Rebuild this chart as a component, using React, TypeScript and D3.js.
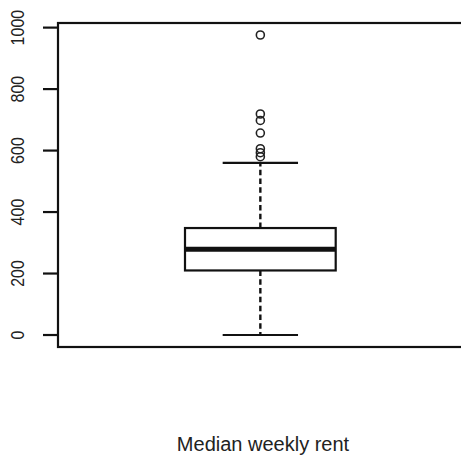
import React from "react";
import * as d3 from "d3";

const categories = ["Median weekly rent"];
const whiskerLow = [0];
const q1 = [210];
const median = [279];
const q3 = [348];
const whiskerHigh = [560];
const outliers = [976, 719, 698, 657, 606, 593, 580];
const yTicks = [0, 200, 400, 600, 800, 1000];

export default function App() {
  const W = 461, H = 459;
  const left = 58, right = 472, top = 23, bottom = 347;
  const y = d3.scaleLinear().domain([-39, 1015]).range([bottom, top]);
  const x = d3.scaleLinear().domain([0.6, 1.4]).range([185, 335.7]);
  const i = 0;
  const cx = x(1);
  const capHalf = (x(1.4) - x(0.6)) / 4;
  const font = "'Liberation Sans', Arial, Helvetica, sans-serif";
  const col = "#111";
  return (
    <div style={{ position: "absolute", left: 0, top: 0 }}>
      <svg width={W} height={H} style={{ display: "block", background: "#fff" }}>
        {/* plot frame */}
        <rect x={left} y={top} width={right - left} height={bottom - top} fill="none" stroke={col} strokeWidth={2.2} />
        {/* y axis ticks */}
        {yTicks.map((t) => (
          <g key={t}>
            <line x1={43} x2={left} y1={y(t)} y2={y(t)} stroke={col} strokeWidth={2.2} />
            <text
              x={0}
              y={0}
              transform={`translate(18, ${y(t)}) rotate(-90) scale(1,1.15)`}
              textAnchor="middle"
              dominantBaseline="central"
              fontFamily={font}
              fontSize={16}
              fill="#222"
            >
              {t}
            </text>
          </g>
        ))}
        {/* whiskers */}
        <line x1={cx} x2={cx} y1={y(q3[i])} y2={y(whiskerHigh[i])} stroke={col} strokeWidth={2.4} strokeDasharray="5.5 3.3" />
        <line x1={cx} x2={cx} y1={y(q1[i])} y2={y(whiskerLow[i])} stroke={col} strokeWidth={2.4} strokeDasharray="5.5 3.3" />
        <line x1={cx - capHalf} x2={cx + capHalf} y1={y(whiskerHigh[i])} y2={y(whiskerHigh[i])} stroke={col} strokeWidth={2.2} />
        <line x1={cx - capHalf} x2={cx + capHalf} y1={y(whiskerLow[i])} y2={y(whiskerLow[i])} stroke={col} strokeWidth={2.2} />
        {/* box */}
        <rect x={x(0.6)} y={y(q3[i])} width={x(1.4) - x(0.6)} height={y(q1[i]) - y(q3[i])} fill="#fff" stroke={col} strokeWidth={2.2} />
        <line x1={x(0.6)} x2={x(1.4)} y1={y(median[i])} y2={y(median[i])} stroke={col} strokeWidth={5} />
        {/* outliers */}
        {outliers.map((v, k) => (
          <circle key={k} cx={cx} cy={y(v)} r={4} fill="none" stroke="#222" strokeWidth={1.6} />
        ))}
        {/* x label */}
        <text x={263} y={451} textAnchor="middle" fontFamily={font} fontSize={20} fill="#222">
          {categories[i]}
        </text>
      </svg>
    </div>
  );
}
